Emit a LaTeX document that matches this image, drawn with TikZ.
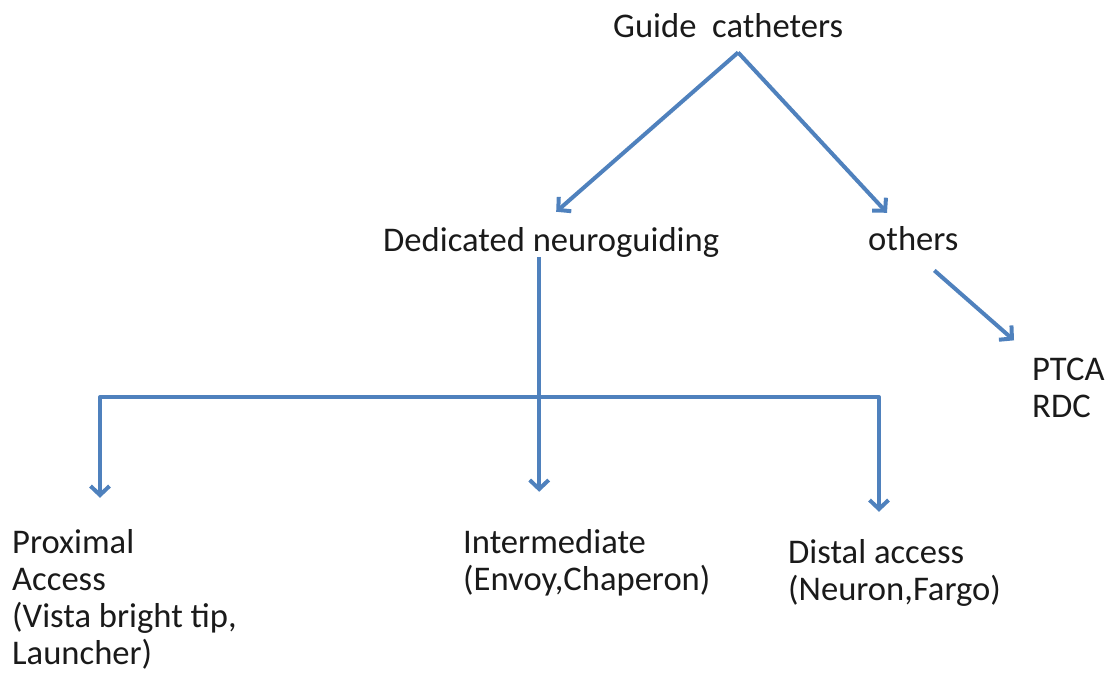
\documentclass[tikz,border=0pt]{standalone}
\usepackage{fontspec}
\setmainfont{Carlito}
\usetikzlibrary{arrows.meta, positioning, calc}
\definecolor{linkblue}{HTML}{4F81BD}
\definecolor{darktext}{HTML}{1A1A1A}

\begin{document}
\begin{tikzpicture}[x=1pt, y=-1pt,
    txt/.style={inner sep=0pt, anchor=base west, align=left, text=darktext, font=\fontsize{34.6}{37}\selectfont},
    arr/.style={-{Straight Barb[length=9pt, width=19pt]}, line width=4pt, linkblue, line join=round}
]
    \useasboundingbox (0,0) rectangle (1110,675);
    % base is the last line of each node
    \node[txt] (guide) at (613,37) {Guide\ \ catheters};
    \node[txt] (neuro) at (383,251) {Dedicated neuroguiding};
    \node[txt] (others) at (868,250) {others};
    \node[txt] (ptca) at (1032,417) {PTCA\\RDC};
    \node[txt] (proximal) at (12,664) {Proximal\\Access\\(Vista bright tip,\\Launcher)};
    \node[txt] (intermediate) at (463,590) {Intermediate\\(Envoy,Chaperon)};
    \node[txt] (distal) at (788,600) {Distal access\\(Neuron,Fargo)};
    % split points
    \coordinate (split) at ($(guide.south)+(10,15)$);
    \coordinate (stem) at ($(neuro.south)+(-12,0)$);
    \coordinate (railL) at (100,397);
    \coordinate (railR) at (879,397);
    \draw[arr] (split) -- ($(neuro.north)+(5,-15)$);
    \draw[arr] (split) -- ($(others.north west)+(19,-13)$);
    \draw[arr] ($(others.south)+(21,20)$) -- ($(ptca.north west)+(-18,-17)$);
    \draw[arr, shorten >=37pt] (stem) -- (stem |- intermediate.north);
    \draw[arr, shorten >=31pt] (stem |- railL) -- (railL) -- (railL |- proximal.north);
    \draw[arr, shorten >=27pt] (stem |- railR) -- (railR) -- (railR |- distal.north);
\end{tikzpicture}
\end{document}
